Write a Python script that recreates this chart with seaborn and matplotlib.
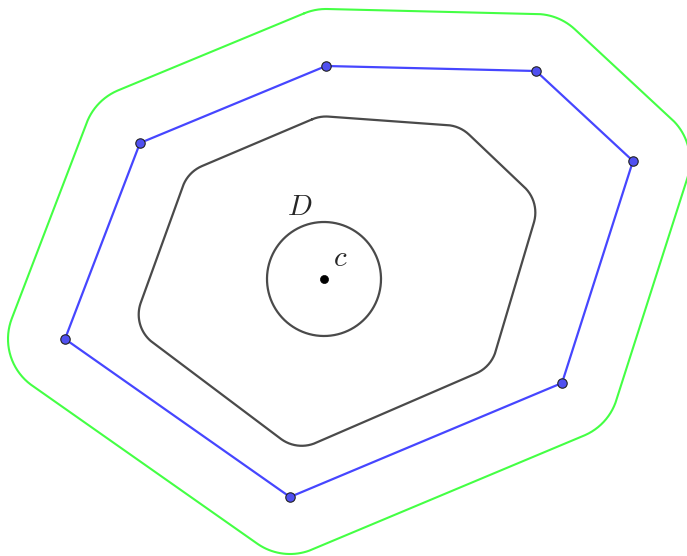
import matplotlib
matplotlib.use("Agg")
import matplotlib.pyplot as plt
import numpy as np
import pandas as pd
import seaborn as sns

# blue polygon vertices (pixel coords, y pointing down)
poly_x = [326, 536, 633, 562, 290, 65, 140]
poly_y = [66, 71, 161, 383, 497, 339, 143]
# dark inner curve: corner points before rounding
inner_x = [320, 460, 540, 491, 297, 132, 188]
inner_y = [116, 126, 202, 367, 451, 327, 172]
center_x, center_y = 324, 279
disk_r = 57          # radius of D and of the outer offset
inner_round = 35     # corner radius of the inner curve


def rounded_outline(px, py, r, shrink=0.0, steps=40):
    """Polygon corners replaced by arcs of radius r; arc centres are the
    vertices pulled inward by `shrink` (0 -> Minkowski sum with a disk)."""
    p = np.column_stack([px, py]).astype(float)
    n = len(p)
    cen = p.mean(axis=0)
    normals = []
    for i in range(n):
        a, b = p[i], p[(i + 1) % n]
        d = b - a
        nv = np.array([d[1], -d[0]]) / np.hypot(*d)
        if np.dot(nv, (a + b) / 2 - cen) < 0:
            nv = -nv
        normals.append(nv)
    pts = []
    for i in range(n):
        n_in, n_out = normals[i - 1], normals[i]
        c = p[i] - shrink * (n_in + n_out) / (1 + np.dot(n_in, n_out))
        a0 = np.arctan2(n_in[1], n_in[0])
        turn = np.arctan2(n_in[0] * n_out[1] - n_in[1] * n_out[0], np.dot(n_in, n_out))
        t = a0 + np.linspace(0, 1, steps) * turn
        pts.append(np.column_stack([c[0] + r * np.cos(t), c[1] + r * np.sin(t)]))
    pts = np.vstack(pts + [pts[0][:1]])
    return pd.DataFrame({"x": pts[:, 0], "y": pts[:, 1]})


outer = rounded_outline(poly_x, poly_y, disk_r)
inner = rounded_outline(inner_x, inner_y, inner_round, shrink=inner_round)
poly = pd.DataFrame({"x": poly_x + poly_x[:1], "y": poly_y + poly_y[:1]})
theta = np.linspace(0, 2 * np.pi, 200)
disk = pd.DataFrame({"x": center_x + disk_r * np.cos(theta),
                     "y": center_y + disk_r * np.sin(theta)})

sns.set_theme(style="white")
plt.rcParams["mathtext.fontset"] = "cm"

fig = plt.figure(figsize=(6.87, 5.56), dpi=100)
ax = fig.add_axes([0, 0, 1, 1])

line_kw = dict(x="x", y="y", sort=False, estimator=None, ax=ax)
sns.lineplot(data=outer, color="#44ff44", lw=1.5, **line_kw)
sns.lineplot(data=inner, color="#4a4a4a", lw=1.6, **line_kw)
sns.lineplot(data=poly, color="#4646ff", lw=1.6, **line_kw)
sns.lineplot(data=disk, color="#4a4a4a", lw=1.6, **line_kw)
sns.scatterplot(x=poly_x, y=poly_y, s=46, color="#5050f0", edgecolor="#222222",
                linewidth=0.8, ax=ax, zorder=5)
sns.scatterplot(x=[center_x], y=[center_y], s=34, color="black", edgecolor="black",
                ax=ax, zorder=5)

ax.text(300, 207, "$D$", fontsize=21, ha="center", va="center")
ax.text(340, 258, "$c$", fontsize=21, ha="center", va="center")

ax.set_xlim(0, 687)
ax.set_ylim(556, 0)
ax.axis("off")
fig.savefig("out.png", dpi=100, facecolor="white")
plt.close(fig)
